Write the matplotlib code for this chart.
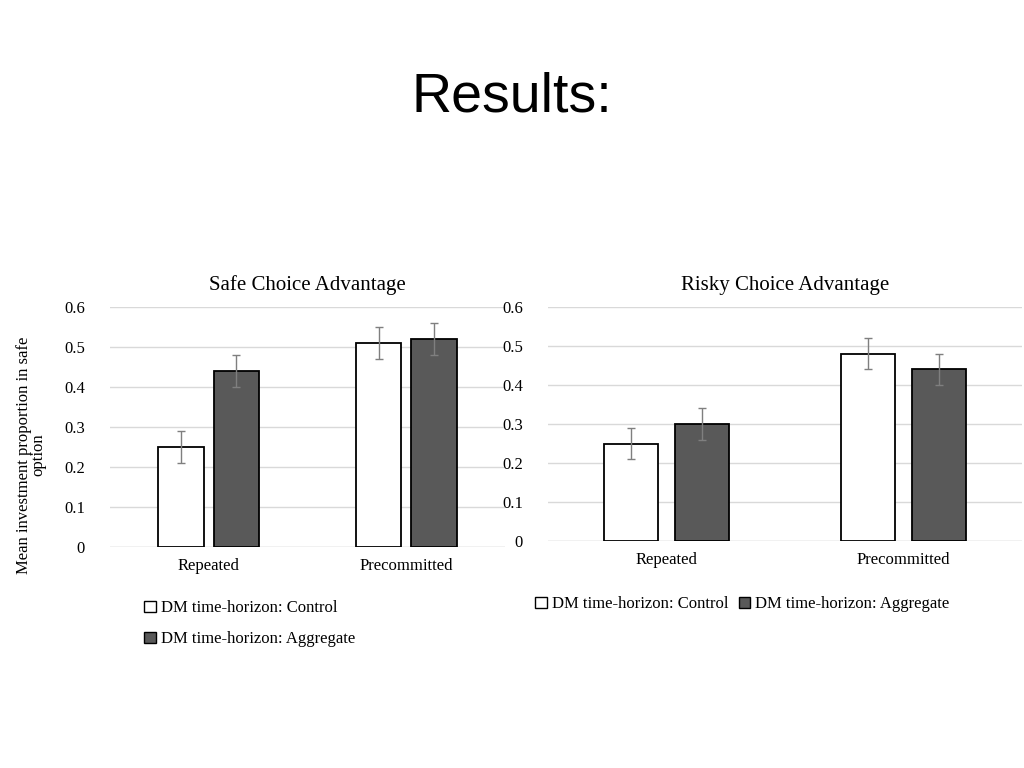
import matplotlib
matplotlib.use("Agg")
import matplotlib.pyplot as plt
from matplotlib.patches import Patch

categories = ["Repeated", "Precommitted"]
safe_control = [0.25, 0.51]
safe_aggregate = [0.44, 0.52]
safe_control_err = [0.04, 0.04]
safe_aggregate_err = [0.04, 0.04]
risky_control = [0.25, 0.48]
risky_aggregate = [0.30, 0.44]
risky_control_err = [0.04, 0.04]
risky_aggregate_err = [0.04, 0.04]
yticks = [0, 0.1, 0.2, 0.3, 0.4, 0.5, 0.6]

plt.rcParams["font.family"] = "Liberation Serif"
W, H = 1024, 768
fig = plt.figure(figsize=(W / 100, H / 100), dpi=100)
fig.text(0.5, 1 - 97 / H, "Results:", ha="center", va="center",
         fontsize=40, family="Liberation Sans")

def panel(rect, title, ctrl, agg, ce, ae, off, width):
    l, t, r, b = rect
    ax = fig.add_axes([l / W, 1 - b / H, (r - l) / W, (b - t) / H])
    x = range(len(categories))
    ek = dict(ecolor="#7f7f7f", elinewidth=1, capsize=3, capthick=1)
    ax.bar([i - off for i in x], ctrl, width, yerr=ce, color="white",
           edgecolor="black", linewidth=1.3, error_kw=ek, zorder=3)
    ax.bar([i + off for i in x], agg, width, yerr=ae, color="#595959",
           edgecolor="black", linewidth=1.3, error_kw=ek, zorder=3)
    ax.set_xlim(-0.5, 1.5)
    ax.set_ylim(0, 0.6)
    ax.set_yticks(yticks)
    ax.set_yticklabels([f"{v:g}" for v in yticks], fontsize=12)
    ax.set_xticks(list(x))
    ax.set_xticklabels(categories, fontsize=12)
    ax.tick_params(length=0, pad=18)
    ax.tick_params(axis="x", pad=8)
    ax.grid(axis="y", color="#d9d9d9", linewidth=1, zorder=0)
    for s in ax.spines.values():
        s.set_visible(False)
    ax.axhline(0, color="#d9d9d9", linewidth=1, zorder=1)
    ax.set_title(title, fontsize=15, pad=12)
    return ax

axl = panel((110, 307, 505, 547), "Safe Choice Advantage", safe_control,
            safe_aggregate, safe_control_err, safe_aggregate_err, 0.14, 0.23)
axr = panel((548, 307, 1022, 541), "Risky Choice Advantage", risky_control,
            risky_aggregate, risky_control_err, risky_aggregate_err, 0.15, 0.23)

fig.text(31 / W, 1 - 455 / H, "Mean investment proportion in safe\noption",
         rotation=90, ha="center", va="center", fontsize=12, linespacing=0.9)

handles = [Patch(facecolor="white", edgecolor="black", label="DM time-horizon: Control"),
           Patch(facecolor="#595959", edgecolor="black", label="DM time-horizon: Aggregate")]
lk = dict(frameon=False, fontsize=12, handlelength=0.7, handleheight=0.7,
          handletextpad=0.3, borderpad=0, columnspacing=0.6)
fig.legend(handles=handles, loc="upper left", bbox_to_anchor=(136 / W, 1 - 592 / H),
           ncol=1, labelspacing=0.9, **lk)
fig.legend(handles=handles, loc="upper left", bbox_to_anchor=(527 / W, 1 - 588 / H),
           ncol=2, **lk)

fig.savefig("out.png", dpi=100)
